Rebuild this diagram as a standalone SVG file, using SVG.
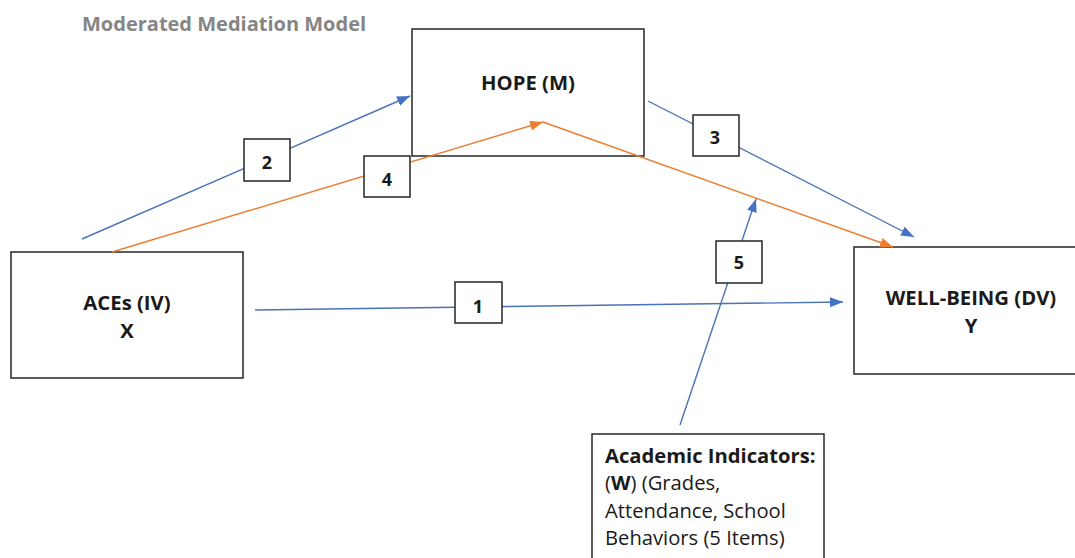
<svg xmlns="http://www.w3.org/2000/svg" width="1075" height="558" viewBox="0 0 1075 558">
<style>
.box{fill:#fff;stroke:#262626;stroke-width:1.5}
.lbl{fill:#fff;stroke:#262626;stroke-width:1.5}
.t{font-family:"Open Sans","Liberation Sans",sans-serif;font-weight:bold;font-size:20.3px;fill:#1a1a1a;text-anchor:middle}
.n{font-family:"Open Sans","Liberation Sans",sans-serif;font-weight:bold;font-size:18px;fill:#1a1a1a;text-anchor:middle}
.a{font-family:"Open Sans","Liberation Sans",sans-serif;font-size:20.2px;fill:#1a1a1a}
.blue{fill:none;stroke:#4a72b8;stroke-width:1.4}
.orange{fill:none;stroke:#ed7d31;stroke-width:1.4}
</style>
<defs>
<marker id="ab" markerUnits="userSpaceOnUse" markerWidth="14" markerHeight="12" refX="13" refY="5" orient="auto"><path d="M0,0 L13,5 L0,10 Z" fill="#4472c4"/></marker>
<marker id="ao" markerUnits="userSpaceOnUse" markerWidth="14" markerHeight="12" refX="13" refY="5" orient="auto"><path d="M0,0 L13,5 L0,10 Z" fill="#ed7d31"/></marker>
</defs>
<rect width="1075" height="558" fill="#fff"/>
<text id="title" x="82" y="31" style="font-family:'Open Sans','Liberation Sans',sans-serif;font-weight:bold;font-size:20px;fill:#858585">Moderated Mediation Model</text>

<g id="hope"><rect class="box" x="412" y="29" width="232" height="127"/><text class="t" x="528" y="90">HOPE (M)</text></g>
<g id="aces"><rect class="box" x="11" y="252" width="232" height="126"/><text class="t" x="127" y="310">ACEs (IV)</text><text class="t" x="127" y="338">X</text></g>
<g id="wellbeing"><rect class="box" x="854" y="247" width="232" height="127"/><text class="t" x="971" y="305">WELL-BEING (DV)</text><text class="t" x="971" y="333">Y</text></g>
<g id="academic"><rect class="box" x="592" y="434" width="232" height="140"/>
<text class="a" x="605" y="463" font-weight="bold" font-size="19.2">Academic Indicators:</text>
<text class="a" x="605" y="490">(<tspan font-weight="bold">W</tspan>) (Grades,</text>
<text class="a" x="605" y="518">Attendance, School</text>
<text class="a" x="605" y="545">Behaviors (5 Items)</text></g>

<g id="connectors">
<line class="blue" x1="82" y1="239" x2="410" y2="96" marker-end="url(#ab)"/>
<line class="orange" x1="112" y1="252" x2="543" y2="122" marker-end="url(#ao)"/>
<line class="orange" x1="543" y1="122" x2="893" y2="247" marker-end="url(#ao)"/>
<line class="blue" x1="648" y1="101" x2="914" y2="237" marker-end="url(#ab)"/>
<line class="blue" x1="255" y1="310" x2="843" y2="302" marker-end="url(#ab)"/>
<line class="blue" x1="680" y1="425" x2="756" y2="199" marker-end="url(#ab)"/>
</g>

<g id="label1"><rect class="lbl" x="455" y="282" width="47" height="41"/><text class="n" x="478" y="313">1</text></g>
<g id="label2"><rect class="lbl" x="244" y="139" width="46" height="42"/><text class="n" x="267" y="169">2</text></g>
<g id="label3"><rect class="lbl" x="693" y="115" width="46" height="41"/><text class="n" x="715" y="144">3</text></g>
<g id="label4"><rect class="lbl" x="364" y="156" width="46" height="41"/><text class="n" x="387" y="186">4</text></g>
<g id="label5"><rect class="lbl" x="716" y="241" width="46" height="42"/><text class="n" x="739" y="269">5</text></g>
</svg>
